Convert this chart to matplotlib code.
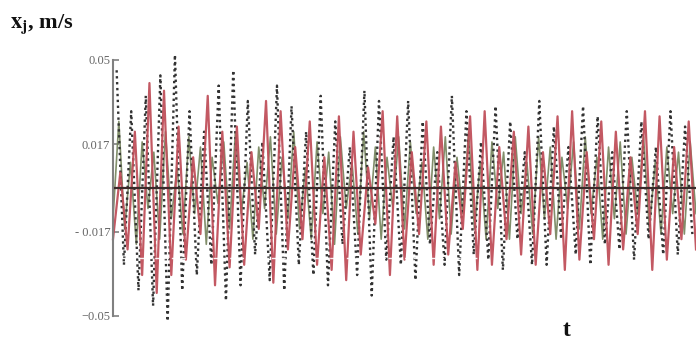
import numpy as np
import matplotlib
matplotlib.use("Agg")
import matplotlib.pyplot as plt

# ---- data (extrema, half-period spacing) ----
red_vals = [
    -0.020, 0.006, -0.024, 0.022, -0.034, 0.041, -0.041, 0.038, -0.034, 0.024,
    -0.028, 0.012, -0.018, 0.036, -0.038, 0.022, -0.031, 0.024, -0.030, 0.014,
    -0.016, 0.034, -0.037, 0.030, -0.024, 0.016, -0.020, 0.026, -0.030, 0.012,
    -0.032, 0.028, -0.036, 0.022, -0.026, 0.008, -0.014, 0.030, -0.034, 0.028,
    -0.028, 0.014, -0.018, 0.026, -0.030, 0.024, -0.026, 0.010, -0.016, 0.028,
    -0.032, 0.030, -0.030, 0.016, -0.020, 0.022, -0.026, 0.024, -0.030, 0.014,
    -0.018, 0.028, -0.032, 0.030, -0.028, 0.014, -0.020, 0.026, -0.030, 0.022,
    -0.024, 0.012, -0.018, 0.030, -0.032, 0.028, -0.028, 0.016, -0.020, 0.026,
    -0.024,
]
black_vals = [
    0.046, -0.030, 0.030, -0.040, 0.036, -0.046, 0.044, -0.052, 0.052, -0.040,
    0.030, -0.034, 0.022, -0.030, 0.040, -0.044, 0.046, -0.038, 0.034, -0.026,
    0.018, -0.036, 0.040, -0.040, 0.032, -0.030, 0.022, -0.034, 0.036, -0.038,
    0.026, -0.022, 0.016, -0.034, 0.038, -0.042, 0.034, -0.028, 0.020, -0.030,
    0.034, -0.036, 0.026, -0.022, 0.014, -0.030, 0.036, -0.034, 0.030, -0.026,
    0.018, -0.028, 0.032, -0.032, 0.026, -0.020, 0.014, -0.030, 0.034, -0.030,
    0.024, -0.020, 0.016, -0.026, 0.032, -0.030, 0.028, -0.022, 0.014, -0.024,
    0.030, -0.028, 0.026, -0.020, 0.016, -0.026, 0.030, -0.026, 0.024, -0.018,
]
green_vals = [
    -0.012, 0.026, -0.016, 0.010, -0.022, 0.018, -0.008, 0.014, -0.020, 0.022,
    -0.012, 0.008, -0.018, 0.020, -0.010, 0.016, -0.022, 0.012, -0.006, 0.018,
    -0.016, 0.022, -0.010, 0.010, -0.020, 0.016, -0.008, 0.020, -0.018, 0.012,
    -0.012, 0.022, -0.016, 0.008, -0.020, 0.018, -0.010, 0.014, -0.022, 0.020,
    -0.008, 0.010, -0.018, 0.022, -0.012, 0.016, -0.020, 0.012, -0.008, 0.020,
    -0.016, 0.018, -0.010, 0.010, -0.020, 0.016, -0.012, 0.020, -0.018, 0.012,
    -0.010, 0.022, -0.016, 0.010, -0.020, 0.018, -0.008, 0.014, -0.020, 0.020,
    -0.010, 0.010, -0.018, 0.020, -0.012, 0.016, -0.020, 0.012, -0.008, 0.018,
    -0.016, 0.020, -0.010, 0.012, -0.020, 0.016, -0.012, 0.018, -0.018, 0.012,
    -0.010, 0.020, -0.016, 0.010, -0.018, 0.016, -0.010, 0.014, -0.018, 0.018,
    -0.010,
]
t_red = np.arange(len(red_vals)) * 0.5
t_black = 0.25 + np.arange(len(black_vals)) * 0.5
t_green = np.arange(len(green_vals)) * 0.4

ytick_vals = [0.05, 0.017, -0.017, -0.05]
ytick_labels = ["0.05", "0.017", "- 0.017", "\u22120.05"]

plt.rcParams["font.family"] = ["Liberation Serif", "DejaVu Serif"]
plt.rcParams["mathtext.fontset"] = "stix"

fig = plt.figure(figsize=(6.96, 3.45), dpi=100)
ax = fig.add_axes([113 / 696, 29 / 345, 583 / 696, 256 / 345])

ax.plot(t_green, green_vals, color="#73825a", lw=1.2, alpha=0.9,
        clip_on=False)
ax.plot(t_black, black_vals, color="#333333", lw=1.7,
        ls=(0, (1, 1.5)), clip_on=False)
ax.plot(t_red, red_vals, color="#c0505b", lw=1.6, alpha=0.95,
        clip_on=False)
ax.axhline(0, color="#3b2a2a", lw=1.6)
# pale dashed artefact line across the lower part
ax.plot([0, 25], [-0.0275, -0.0275], color="white", lw=1.0,
        ls=(0, (4, 2)), alpha=0.9)

ax.set_xlim(0, 40)
ax.set_ylim(-0.05, 0.05)
for s in ("top", "right", "bottom"):
    ax.spines[s].set_visible(False)
ax.spines["left"].set_color("#808080")
ax.spines["left"].set_linewidth(1.5)
ax.set_xticks([])
ax.set_yticks(ytick_vals)
ax.set_yticklabels(ytick_labels)
ax.tick_params(axis="y", direction="in", length=4, width=1.2,
               colors="#808080", labelsize=9, labelcolor="#666666", pad=2)

fig.text(0.014, 0.92, r"$\mathbf{x_j}$, m/s", fontsize=16,
         fontweight="bold", color="#111111")
fig.text(0.808, 0.025, "t", fontsize=17, fontweight="bold", color="#111111")

fig.savefig("out.png", dpi=100)
